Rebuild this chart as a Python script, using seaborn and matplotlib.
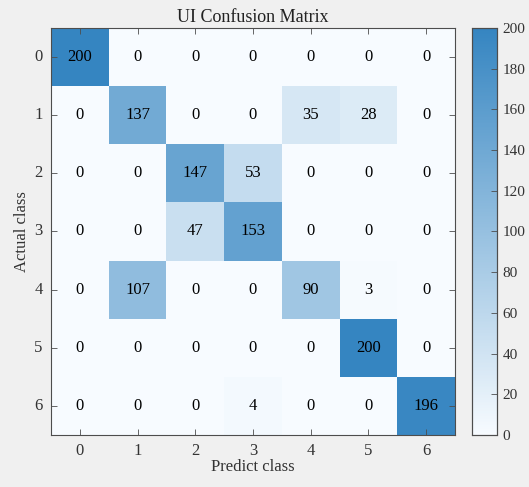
import numpy as np
import pandas as pd
import matplotlib
matplotlib.use("Agg")
import matplotlib.pyplot as plt
from matplotlib.colors import LinearSegmentedColormap
import seaborn as sns

classes = ["0", "1", "2", "3", "4", "5", "6"]
row0 = [200, 0, 0, 0, 0, 0, 0]
row1 = [0, 137, 0, 0, 35, 28, 0]
row2 = [0, 0, 147, 53, 0, 0, 0]
row3 = [0, 0, 47, 153, 0, 0, 0]
row4 = [0, 107, 0, 0, 90, 3, 0]
row5 = [0, 0, 0, 0, 0, 200, 0]
row6 = [0, 0, 0, 4, 0, 0, 196]
cbar_ticks = [0, 20, 40, 60, 80, 100, 120, 140, 160, 180, 200]

cm = pd.DataFrame([row0, row1, row2, row3, row4, row5, row6],
                  index=classes, columns=classes)

plt.rcParams["font.family"] = ["Liberation Serif", "DejaVu Serif"]

cmap = LinearSegmentedColormap.from_list("light_blue", ["#f7fbff", "#3585c1"])
edge = "#4d4d4d"
txt = "#333333"

fig = plt.figure(figsize=(5.29, 4.87), dpi=100, facecolor="#f0f0f0")
ax = fig.add_axes([0.0964, 0.1068, 0.7636, 0.8357])
cax = fig.add_axes([0.892, 0.1068, 0.047, 0.8357])

sns.heatmap(cm, ax=ax, cbar_ax=cax, cmap=cmap, vmin=0, vmax=200,
            annot=True, fmt="d", annot_kws={"size": 12, "color": "black"},
            cbar_kws={"ticks": cbar_ticks})

for s in ax.spines.values():
    s.set_visible(True)
    s.set_color(edge)
    s.set_linewidth(0.8)
ax.tick_params(axis="both", which="both", direction="in", length=4,
               width=0.6, color=edge, labelsize=12, labelcolor=txt,
               top=True, right=True, bottom=True, left=True)
ax.tick_params(axis="x", pad=6)
ax.tick_params(axis="y", pad=6)
ax.set_xticklabels(classes, rotation=0)
ax.set_yticklabels(classes, rotation=0)
ax.set_xlabel("Predict class", fontsize=12, color=txt, labelpad=0)
ax.set_ylabel("Actual class", fontsize=12, color=txt, labelpad=3)
ax.set_title("UI Confusion Matrix", fontsize=13, color="#222222", pad=4)

for s in cax.spines.values():
    s.set_visible(True)
    s.set_color(edge)
    s.set_linewidth(0.8)
cax.tick_params(direction="in", length=4, width=0.6, color=edge,
                labelsize=11, labelcolor=txt, pad=4)

fig.savefig("out.png", dpi=100, facecolor=fig.get_facecolor())
